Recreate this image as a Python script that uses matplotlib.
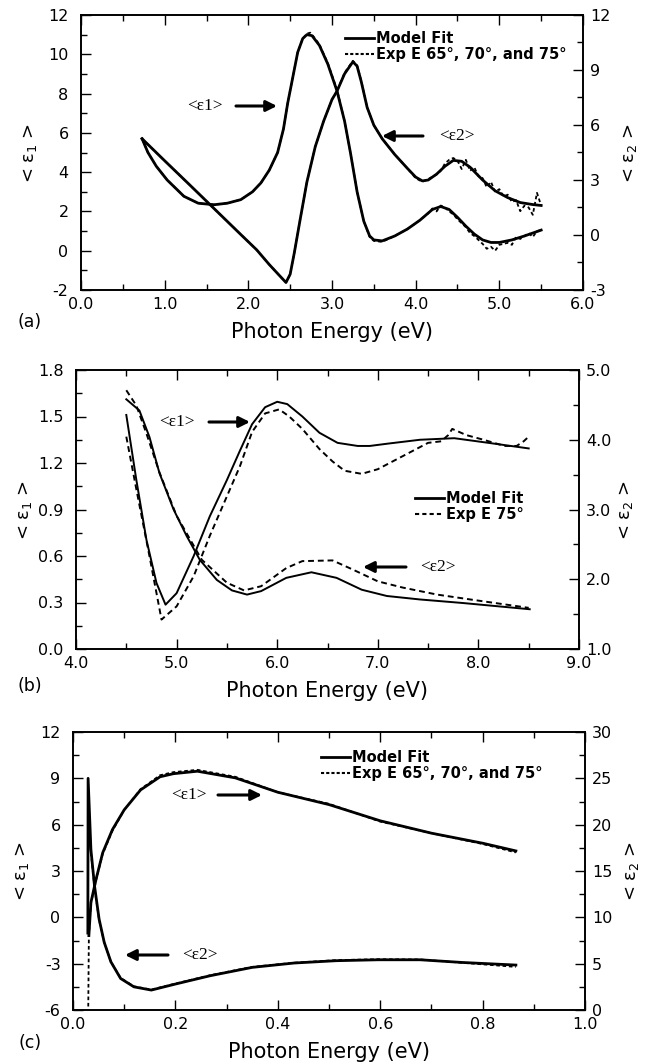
import numpy as np
import matplotlib.pyplot as plt
from matplotlib.ticker import MultipleLocator, FormatStrFormatter

# ---------------- panel (a) ----------------
a_e1_x = [0.73, 0.8, 0.9, 1.03, 1.23, 1.4, 1.59, 1.75, 1.91, 2.05, 2.15, 2.25, 2.35, 2.42, 2.47, 2.53,
          2.59, 2.65, 2.7, 2.76, 2.85, 2.95, 3.06, 3.15, 3.22, 3.3, 3.38, 3.45, 3.5, 3.6, 3.75, 3.9,
          4.05, 4.2, 4.3, 4.4, 4.5, 4.6, 4.7, 4.8, 4.9, 5.0, 5.15, 5.3, 5.4, 5.5]
a_e1_y = [5.7, 5.0, 4.3, 3.6, 2.77, 2.42, 2.34, 2.42, 2.6, 3.0, 3.45, 4.1, 5.0, 6.2, 7.5, 8.8,
          10.1, 10.8, 11.0, 10.95, 10.45, 9.5, 8.13, 6.6, 5.0, 3.0, 1.5, 0.75, 0.55, 0.5, 0.75, 1.1,
          1.55, 2.1, 2.25, 2.1, 1.7, 1.25, 0.85, 0.55, 0.42, 0.42, 0.55, 0.75, 0.9, 1.05]
a_e1_exp_x = [0.73, 0.8, 0.9, 1.03, 1.23, 1.4, 1.59, 1.75, 1.91, 2.05, 2.15, 2.25, 2.35, 2.42, 2.47, 2.53,
              2.59, 2.65, 2.7, 2.74, 2.78, 2.85, 2.95, 3.06, 3.15, 3.22, 3.3, 3.38, 3.45, 3.5, 3.6, 3.75,
              3.9, 4.05, 4.15, 4.2, 4.25, 4.3, 4.35, 4.4, 4.45, 4.5, 4.55, 4.6, 4.65, 4.7, 4.75, 4.8,
              4.85, 4.9, 4.95, 5.0, 5.05, 5.1, 5.15, 5.2, 5.25, 5.3, 5.35, 5.4, 5.45, 5.5]
a_e1_exp_y = [5.7, 5.0, 4.3, 3.6, 2.77, 2.42, 2.34, 2.42, 2.6, 3.0, 3.45, 4.1, 5.0, 6.2, 7.5, 8.8,
              10.1, 10.8, 11.05, 11.1, 10.9, 10.5, 9.55, 8.2, 6.6, 5.0, 3.0, 1.5, 0.7, 0.5, 0.45, 0.75,
              1.1, 1.55, 1.9, 2.15, 2.0, 2.3, 2.2, 2.0, 1.85, 1.6, 1.4, 1.2, 0.9, 0.75, 0.55, 0.35,
              0.1, 0.2, 0.0, 0.3, 0.35, 0.4, 0.3, 0.7, 0.6, 0.75, 0.9, 0.7, 1.0, 1.05]

a_e2_x = [0.73, 1.0, 1.3, 1.6, 1.9, 2.1, 2.25, 2.38, 2.45, 2.5, 2.55, 2.62, 2.7, 2.8, 2.9, 3.0, 3.06,
          3.15, 3.25, 3.3, 3.35, 3.42, 3.5, 3.6, 3.75, 3.9, 4.0, 4.08, 4.15, 4.25, 4.35, 4.45, 4.55,
          4.65, 4.8, 4.95, 5.1, 5.25, 5.4, 5.5]
a_e2_y = [5.25, 4.05, 2.73, 1.40, 0.07, -0.81, -1.61, -2.25, -2.59, -2.14, -0.96, 0.86, 2.89, 4.82,
          6.21, 7.39, 7.85, 8.79, 9.45, 9.21, 8.36, 6.96, 5.99, 5.25, 4.39, 3.64, 3.16, 2.95, 3.0,
          3.32, 3.75, 4.07, 4.02, 3.70, 3.0, 2.41, 2.04, 1.77, 1.66, 1.61]
a_e2_exp_x = [0.73, 1.0, 1.3, 1.6, 1.9, 2.1, 2.25, 2.38, 2.45, 2.5, 2.55, 2.62, 2.7, 2.8, 2.9, 3.0,
              3.06, 3.15, 3.25, 3.3, 3.35, 3.42, 3.5, 3.6, 3.75, 3.9, 4.0, 4.08, 4.15, 4.25, 4.3, 4.35,
              4.4, 4.45, 4.5, 4.55, 4.6, 4.65, 4.7, 4.75, 4.8, 4.85, 4.9, 4.95, 5.0, 5.05, 5.1, 5.15,
              5.2, 5.25, 5.3, 5.35, 5.4, 5.45, 5.5]
a_e2_exp_y = [5.25, 4.05, 2.73, 1.40, 0.07, -0.81, -1.61, -2.25, -2.59, -2.14, -0.96, 0.86, 2.89, 4.82,
              6.21, 7.39, 7.85, 8.85, 9.5, 9.25, 8.4, 6.96, 5.99, 5.25, 4.39, 3.64, 3.1, 2.9, 3.05, 3.3,
              3.5, 3.9, 4.1, 4.2, 4.05, 3.6, 4.1, 3.5, 3.7, 3.2, 3.1, 2.6, 2.9, 2.35, 2.5, 2.1, 2.2,
              1.8, 1.9, 1.3, 1.6, 1.5, 1.1, 2.3, 1.6]

# ---------------- panel (b) ----------------
b_e1_x = [4.5, 4.6, 4.7, 4.8, 4.89, 5.0, 5.17, 5.33, 5.5, 5.63, 5.75, 5.88, 6.0, 6.1, 6.25, 6.42,
          6.6, 6.8, 6.92, 7.1, 7.42, 7.76, 8.1, 8.5]
b_e1_y = [1.51, 1.09, 0.705, 0.426, 0.286, 0.36, 0.6, 0.856, 1.09, 1.28, 1.45, 1.56, 1.595, 1.58,
          1.5, 1.395, 1.33, 1.31, 1.31, 1.325, 1.35, 1.36, 1.33, 1.294]
b_e1_exp_x = [4.5, 4.6, 4.73, 4.85, 5.0, 5.17, 5.33, 5.5, 5.63, 5.75, 5.88, 6.02, 6.12, 6.25, 6.42,
              6.55, 6.67, 6.84, 7.0, 7.25, 7.5, 7.63, 7.7, 7.74, 7.88, 8.05, 8.26, 8.38, 8.45, 8.5]
b_e1_exp_y = [1.37, 1.03, 0.6, 0.19, 0.275, 0.47, 0.73, 0.985, 1.18, 1.40, 1.52, 1.546, 1.5, 1.42,
              1.29, 1.21, 1.15, 1.13, 1.16, 1.245, 1.33, 1.34, 1.38, 1.42, 1.38, 1.35, 1.31, 1.31,
              1.34, 1.37]

b_e2_x = [4.5, 4.63, 4.73, 4.83, 4.97, 5.1, 5.23, 5.4, 5.55, 5.7, 5.84, 6.09, 6.34, 6.59, 6.84,
          7.09, 7.42, 7.84, 8.51]
b_e2_y = [4.58, 4.42, 4.04, 3.52, 3.0, 2.62, 2.28, 1.99, 1.84, 1.78, 1.83, 2.02, 2.10, 2.02, 1.85,
          1.76, 1.71, 1.66, 1.57]
b_e2_exp_x = [4.5, 4.6, 4.7, 4.83, 5.0, 5.25, 5.5, 5.67, 5.84, 6.09, 6.25, 6.55, 6.75, 7.0, 7.25,
              7.59, 7.92, 8.26, 8.5]
b_e2_exp_y = [4.71, 4.49, 4.09, 3.53, 2.91, 2.28, 1.95, 1.84, 1.90, 2.16, 2.26, 2.27, 2.14, 1.97,
              1.88, 1.78, 1.71, 1.64, 1.59]

# ---------------- panel (c) ----------------
c_e1_x = [0.031, 0.035, 0.045, 0.058, 0.077, 0.1, 0.132, 0.17, 0.196, 0.243, 0.317, 0.4, 0.5, 0.6,
          0.7, 0.8, 0.865]
c_e1_y = [-1.18, 0.96, 2.46, 4.18, 5.68, 6.96, 8.25, 9.1, 9.3, 9.46, 9.03, 8.1, 7.3, 6.25, 5.45,
          4.8, 4.3]
c_e1_exp_x = [0.0295, 0.031, 0.035, 0.045, 0.058, 0.077, 0.1, 0.132, 0.17, 0.196, 0.243, 0.317, 0.4,
              0.5, 0.6, 0.7, 0.8, 0.865]
c_e1_exp_y = [-7.0, -1.2, 0.9, 2.4, 4.1, 5.6, 6.95, 8.3, 9.2, 9.4, 9.55, 9.1, 8.1, 7.35, 6.2, 5.45,
              4.75, 4.2]

c_e2_x = [0.029, 0.0295, 0.035, 0.042, 0.051, 0.061, 0.074, 0.093, 0.119, 0.153, 0.2, 0.268, 0.35,
          0.432, 0.514, 0.596, 0.678, 0.76, 0.865]
c_e2_y = [8.3, 25.0, 17.3, 13.4, 9.8, 7.3, 5.2, 3.4, 2.5, 2.15, 2.8, 3.7, 4.6, 5.07, 5.32, 5.42,
          5.42, 5.13, 4.85]
c_e2_exp_x = [0.035, 0.042, 0.051, 0.061, 0.074, 0.093, 0.119, 0.153, 0.2, 0.268, 0.35, 0.432, 0.514,
              0.596, 0.678, 0.76, 0.865]
c_e2_exp_y = [17.0, 13.2, 9.7, 7.3, 5.2, 3.45, 2.55, 2.2, 2.85, 3.75, 4.65, 5.1, 5.38, 5.48, 5.45,
              5.1, 4.65]

W, H = 659, 1064
TICK_FS = 11.5
LABEL_FS = 15


def fx(x):
    return x / W


def fy(y):
    return 1 - y / H


def add_panel(fig, left, right, top, bottom):
    ax = fig.add_axes([fx(left), fy(bottom), (right - left) / W, (bottom - top) / H])
    ax2 = ax.twinx()
    return ax, ax2


def style_axes(ax, ax2, xlim, xmaj, xmin, xfmt, ylim, ymaj, ymin, yfmt, y2lim, y2maj, y2min, y2fmt,
               width_px):
    ax.set_xlim(*xlim)
    ax.set_ylim(*ylim)
    ax2.set_ylim(*y2lim)
    ax.xaxis.set_major_locator(MultipleLocator(xmaj))
    ax.xaxis.set_minor_locator(MultipleLocator(xmin))
    ax.xaxis.set_major_formatter(FormatStrFormatter(xfmt))
    ax.yaxis.set_major_locator(MultipleLocator(ymaj))
    ax.yaxis.set_minor_locator(MultipleLocator(ymin))
    ax.yaxis.set_major_formatter(FormatStrFormatter(yfmt))
    ax2.yaxis.set_major_locator(MultipleLocator(y2maj))
    ax2.yaxis.set_minor_locator(MultipleLocator(y2min))
    ax2.yaxis.set_major_formatter(FormatStrFormatter(y2fmt))
    ax.tick_params(which="both", direction="in", top=True, right=False, labelsize=TICK_FS, width=1.0)
    ax.tick_params(axis="y", which="major", pad=9)
    ax.tick_params(axis="x", which="major", pad=5)
    ax.tick_params(which="major", length=7)
    ax.tick_params(which="minor", length=4)
    ax2.tick_params(which="both", direction="in", labelsize=TICK_FS, width=1.0)
    ax2.tick_params(which="major", length=7, pad=5)
    ax2.tick_params(which="minor", length=4)
    for sp in list(ax.spines.values()) + list(ax2.spines.values()):
        sp.set_linewidth(1.2)
    ax.set_xlabel("Photon Energy (eV)", fontsize=LABEL_FS, labelpad=7)
    ax.set_ylabel("< ε$_1$ >", fontsize=13)
    ax2.set_ylabel("< ε$_2$ >", fontsize=13, rotation=90)
    ax.yaxis.set_label_coords(-42.0 / width_px, 0.5)
    ax2.yaxis.set_label_coords(1 + 38.0 / width_px, 0.5)


def arrow(fig, x1, x2, y):
    fig.add_artist(plt.Annotation("", xy=(fx(x2), fy(y)), xytext=(fx(x1), fy(y)),
                                  xycoords="figure fraction", textcoords="figure fraction",
                                  arrowprops=dict(arrowstyle="-|>", lw=2.2, color="k",
                                                  mutation_scale=16, shrinkA=0, shrinkB=0)))


def tag(fig, s, x, y):
    fig.text(fx(x), fy(y), s, fontsize=12.5, family="Liberation Serif", ha="center", va="center")


def legend(ax, fig, labels, x, y, dash):
    h1, = ax.plot([], [], color="k", lw=2.0)
    h2, = ax.plot([], [], color="k", lw=1.5, ls=dash)
    ax.legend([h1, h2], labels, loc="upper left",
              bbox_to_anchor=(fx(x), fy(y)), bbox_transform=fig.transFigure, frameon=False,
              prop=dict(weight="bold", size=10.5), handlelength=2.0, handletextpad=0.15,
              labelspacing=0.05, borderpad=0, borderaxespad=0)


def main():
    fig = plt.figure(figsize=(W / 100, H / 100), dpi=100)

    # (a)
    ax, ax2 = add_panel(fig, 81, 583, 15, 290)
    ax.plot(a_e1_exp_x, a_e1_exp_y, color="k", lw=1.3, ls=(0, (2, 1.5)))
    ax2.plot(a_e2_exp_x, a_e2_exp_y, color="k", lw=1.3, ls=(0, (2, 1.5)))
    ax.plot(a_e1_x, a_e1_y, color="k", lw=2.0)
    ax2.plot(a_e2_x, a_e2_y, color="k", lw=2.0)
    style_axes(ax, ax2, (0, 6), 1.0, 0.5, "%.1f", (-2, 12), 2, 1, "%d", (-3, 12), 3, 1.5, "%d", 502)
    legend(ax, fig, ["Model Fit", "Exp E 65°, 70°, and 75°"], 345, 31, (0, (1.5, 1)))
    tag(fig, "<ε1>", 205, 106)
    arrow(fig, 236, 277, 106)
    tag(fig, "<ε2>", 457, 136)
    arrow(fig, 423, 382, 136)
    fig.text(fx(30), fy(322), "(a)", fontsize=12.5, ha="center", va="center")

    # (b)
    ax, ax2 = add_panel(fig, 76, 579, 370, 649)
    ax.plot(b_e1_exp_x, b_e1_exp_y, color="k", lw=1.4, ls=(0, (3, 2)))
    ax2.plot(b_e2_exp_x, b_e2_exp_y, color="k", lw=1.4, ls=(0, (3, 2)))
    ax.plot(b_e1_x, b_e1_y, color="k", lw=1.4)
    ax2.plot(b_e2_x, b_e2_y, color="k", lw=1.4)
    style_axes(ax, ax2, (4, 9), 1.0, 0.5, "%.1f", (0, 1.8), 0.3, 0.15, "%.1f", (1, 5), 1.0, 0.5, "%.1f", 503)
    legend(ax, fig, ["Model Fit", "Exp E 75°"], 415, 491, (0, (2, 1.5)))
    tag(fig, "<ε1>", 177, 422)
    arrow(fig, 209, 250, 422)
    tag(fig, "<ε2>", 438, 567)
    arrow(fig, 406, 363, 567)
    fig.text(fx(30), fy(686), "(b)", fontsize=12.5, ha="center", va="center")

    # (c)
    ax, ax2 = add_panel(fig, 73, 585, 732, 1010)
    ax.plot(c_e1_exp_x, c_e1_exp_y, color="k", lw=1.3, ls=(0, (2, 1.5)))
    ax2.plot(c_e2_exp_x, c_e2_exp_y, color="k", lw=1.3, ls=(0, (2, 1.5)))
    ax.plot(c_e1_x, c_e1_y, color="k", lw=2.0)
    ax2.plot(c_e2_x, c_e2_y, color="k", lw=2.0)
    style_axes(ax, ax2, (0, 1), 0.2, 0.1, "%.1f", (-6, 12), 3, 1.5, "%d", (0, 30), 5, 2.5, "%d", 512)
    legend(ax, fig, ["Model Fit", "Exp E 65°, 70°, and 75°"], 321, 750, (0, (1.5, 1)))
    tag(fig, "<ε1>", 189, 795)
    arrow(fig, 218, 262, 795)
    tag(fig, "<ε2>", 200, 955)
    arrow(fig, 168, 125, 955)
    fig.text(fx(30), fy(1043), "(c)", fontsize=12.5, ha="center", va="center")

    fig.savefig("out.png", dpi=100)


if __name__ == "__main__":
    main()
